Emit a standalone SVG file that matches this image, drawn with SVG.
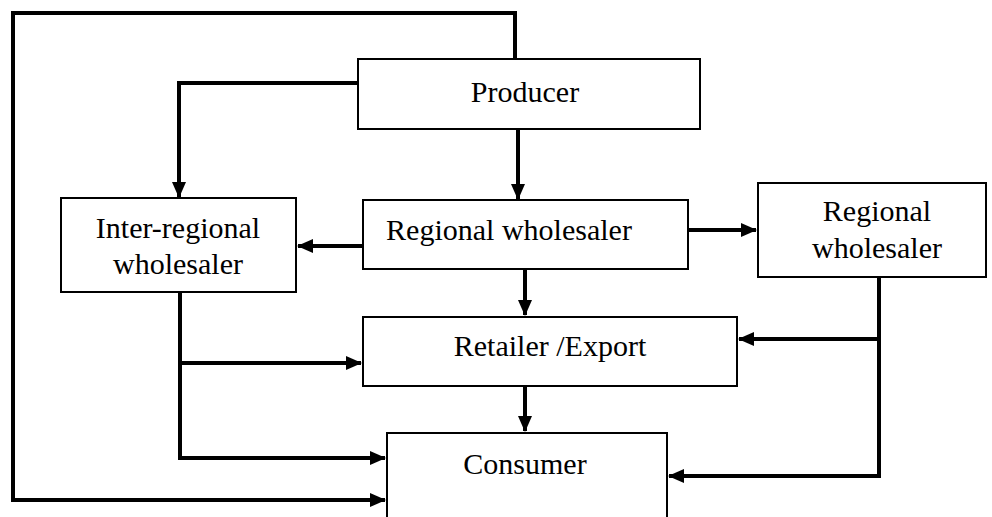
<svg xmlns="http://www.w3.org/2000/svg" width="992" height="517" viewBox="0 0 992 517">
<style>
.box{fill:#fff;stroke:#000;stroke-width:2}
.t{font-family:"Liberation Serif","Times New Roman",serif;font-size:30px;fill:#000;text-anchor:middle}
.c{fill:none;stroke:#000;stroke-width:4;stroke-linejoin:miter}
</style>
<defs>
<marker id="ah" markerUnits="userSpaceOnUse" markerWidth="16" markerHeight="14" refX="15" refY="7" orient="auto">
<path d="M0,0 L16,7 L0,14 z" fill="#000"/>
</marker>
</defs>
<rect width="992" height="517" fill="#fff"/>
<g id="connectors">
<path class="c" d="M515,59 V13 H13 V500 H385" marker-end="url(#ah)"/>
<path class="c" d="M358,83 H179 V197" marker-end="url(#ah)"/>
<path class="c" d="M518,129 V199" marker-end="url(#ah)"/>
<path class="c" d="M363,246 H298" marker-end="url(#ah)"/>
<path class="c" d="M688,230 H756" marker-end="url(#ah)"/>
<path class="c" d="M525,269 V315" marker-end="url(#ah)"/>
<path class="c" d="M180,292 V458 H385" marker-end="url(#ah)"/>
<path class="c" d="M180,363 H361" marker-end="url(#ah)"/>
<path class="c" d="M879,277 V476 H669" marker-end="url(#ah)"/>
<path class="c" d="M879,339 H739" marker-end="url(#ah)"/>
<path class="c" d="M525,386 V431" marker-end="url(#ah)"/>
</g>
<g id="producer">
<rect class="box" x="358" y="59" width="342" height="70"/>
<text class="t" x="525" y="102">Producer</text>
</g>
<g id="inter-regional">
<rect class="box" x="61" y="198" width="235" height="94"/>
<text class="t" x="178" y="238">Inter-regional</text>
<text class="t" x="178" y="274">wholesaler</text>
</g>
<g id="regional-mid">
<rect class="box" x="363" y="200" width="325" height="69"/>
<text class="t" x="509" y="240">Regional wholesaler</text>
</g>
<g id="regional-right">
<rect class="box" x="758" y="183" width="228" height="94"/>
<text class="t" x="877" y="221">Regional</text>
<text class="t" x="877" y="258">wholesaler</text>
</g>
<g id="retailer">
<rect class="box" x="363" y="317" width="374" height="69"/>
<text class="t" x="550" y="356">Retailer /Export</text>
</g>
<g id="consumer">
<rect class="box" x="387" y="433" width="280" height="90"/>
<text class="t" x="525" y="474">Consumer</text>
</g>
</svg>
